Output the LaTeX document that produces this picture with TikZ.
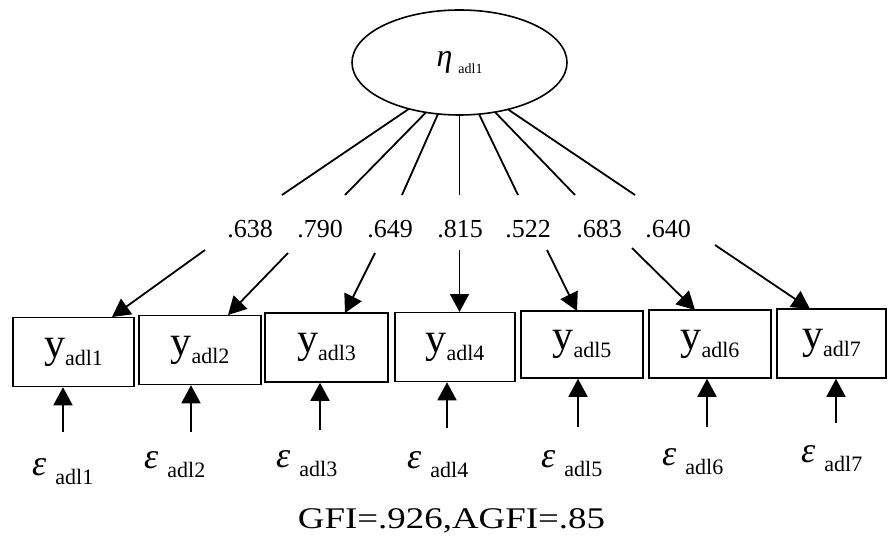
\documentclass[tikz,border=0pt]{standalone}
\usepackage{fontspec}
\setmainfont{Liberation Serif}
\usetikzlibrary{arrows.meta,shapes.geometric}
\newcommand\mysub[2]{\raisebox{-#1}{\fontsize{22}{22}\selectfont #2}}
\begin{document}
\begin{tikzpicture}[x=1pt,y=-1pt,
  obs/.style={draw, line width=1.5pt, inner sep=0pt, minimum height=69pt, font=\fontsize{42}{42}\selectfont},
  ld/.style={inner sep=0pt, font=\fontsize{26}{26}\selectfont},
  ln/.style={line width=1.8pt},
  arr/.style={line width=1.8pt, -{Triangle[length=18pt,width=19pt]}},
  errlab/.style={anchor=base west, inner sep=0pt, font=\fontsize{36}{36}\selectfont},
  lat/.style={draw, ellipse, line width=1.6pt, inner sep=0pt, minimum width=215pt, minimum height=105pt, font=\fontsize{32}{32}\selectfont}]
\useasboundingbox (0,0) rectangle (888,537);

% latent variable
\node[lat] (eta) at (459.5,62.5) {\textit{η}\hspace{6pt}\raisebox{-7pt}{\fontsize{14}{14}\selectfont adl1}};

% observed boxes
\node[obs, minimum width=121pt] (b1) at (73.5,352) {y\mysub{8pt}{adl1}};
\node[obs, minimum width=122pt] (b2) at (200,350) {y\mysub{8pt}{adl2}};
\node[obs, minimum width=123pt] (b3) at (326.5,347.5) {y\mysub{8pt}{adl3}};
\node[obs, minimum width=120pt] (b4) at (455,347) {y\mysub{8pt}{adl4}};
\node[obs, minimum width=122pt, minimum height=67pt] (b5) at (582,344.5) {y\mysub{8pt}{adl5}};
\node[obs, minimum width=122pt, minimum height=68pt] (b6) at (710,344) {y\mysub{8pt}{adl6}};
\node[obs, minimum width=109pt] (b7) at (831.5,343.5) {y\mysub{8pt}{adl7}};

% loading labels
\node[ld] (g1) at (250,229) {.638};
\node[ld] (g2) at (320,229) {.790};
\node[ld] (g3) at (390,229) {.649};
\node[ld] (g4) at (460,229) {.815};
\node[ld] (g5) at (528,229) {.522};
\node[ld] (g6) at (599,229) {.683};
\node[ld] (g7) at (668,229) {.640};

% coordinates of loading paths
\coordinate (s1) at (409,108.8);  \coordinate (u1) at (282,195);   \coordinate (l1) at (205,250);   \coordinate (t1) at (112,317);
\coordinate (s2) at (426,112.4);  \coordinate (u2) at (345,195);   \coordinate (l2) at (288,253);   \coordinate (t2) at (228,315);
\coordinate (s3) at (438,113.9);  \coordinate (u3) at (402,195);   \coordinate (l3) at (375,253);   \coordinate (t3) at (345,313);
\coordinate (s4) at (459.5,115);  \coordinate (u4) at (459.5,195); \coordinate (l4) at (459.5,250); \coordinate (t4) at (459.5,312);
\coordinate (s5) at (479,114.1);  \coordinate (u5) at (518,195);   \coordinate (l5) at (547,250);   \coordinate (t5) at (577,311);
\coordinate (s6) at (495,112.1);  \coordinate (u6) at (575,195);   \coordinate (l6) at (632,248);   \coordinate (t6) at (695,310);
\coordinate (s7) at (508,109.4);  \coordinate (u7) at (635,195);   \coordinate (l7) at (715,245);   \coordinate (t7) at (810,309);

\foreach \i in {1,...,7}{
  \draw[ln] (s\i) -- (u\i);
  \draw[arr] (l\i) -- (t\i);
}

% error arrows
\coordinate (f1) at (63,432);
\coordinate (f2) at (191,432);
\coordinate (f3) at (320,430);
\coordinate (f4) at (447,428);
\coordinate (f5) at (578,427);
\coordinate (f6) at (707,427);
\coordinate (f7) at (836,423);
\foreach \i in {1,...,7}{
  \draw[arr] (f\i) -- (f\i |- b\i.south);
}

% error labels
\node[errlab] (e1) at (32,475) {\textit{ε}\hspace{9pt}\mysub{9pt}{adl1}};
\node[errlab] (e2) at (144,468) {\textit{ε}\hspace{9pt}\mysub{9pt}{adl2}};
\node[errlab] (e3) at (276,467) {\textit{ε}\hspace{9pt}\mysub{9pt}{adl3}};
\node[errlab] (e4) at (407,468) {\textit{ε}\hspace{9pt}\mysub{9pt}{adl4}};
\node[errlab] (e5) at (541,467) {\textit{ε}\hspace{9pt}\mysub{9pt}{adl5}};
\node[errlab] (e6) at (662,465) {\textit{ε}\hspace{9pt}\mysub{9pt}{adl6}};
\node[errlab] (e7) at (801,462) {\textit{ε}\hspace{9pt}\mysub{9pt}{adl7}};

% fit indices
\node[anchor=base, inner sep=0pt, font=\fontsize{30}{30}\selectfont] (fit) at (451.5,528) {\scalebox{1.23}[1]{GFI=.926,AGFI=.85}};
\end{tikzpicture}
\end{document}
